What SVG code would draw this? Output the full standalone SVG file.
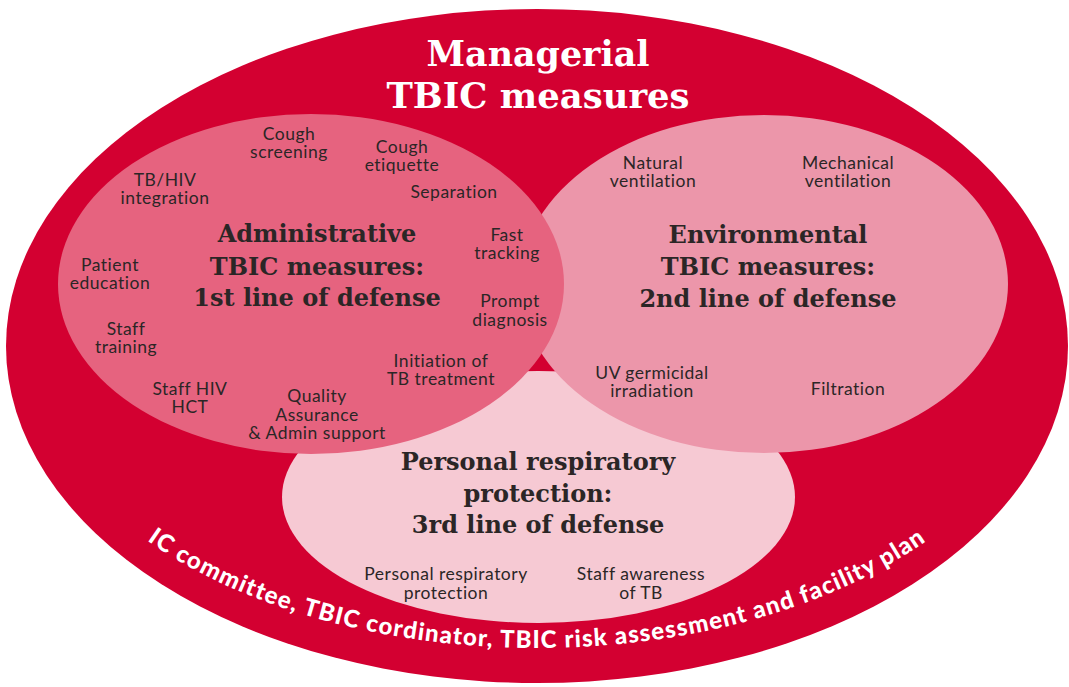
<svg xmlns="http://www.w3.org/2000/svg" xmlns:xlink="http://www.w3.org/1999/xlink" width="1069" height="687" viewBox="0 0 1069 687">
<style>
.title{font-family:"DejaVu Serif","Liberation Serif",serif;font-weight:bold;font-size:36px;fill:#ffffff;text-anchor:middle}
.head{font-family:"DejaVu Serif","Liberation Serif",serif;font-weight:bold;font-size:24px;fill:#2b2626;text-anchor:middle}
.lbl{font-family:"Lato","Open Sans",sans-serif;font-size:17.5px;letter-spacing:0.5px;fill:#2b2626;text-anchor:middle}
.curve{font-family:"Lato","Open Sans",sans-serif;font-weight:900;font-size:24px;letter-spacing:1.2px;fill:#ffffff}
</style>
<defs>
<path id="arc" d="M 27 346 A 510 302 0 0 0 1047 346"/>
</defs>
<rect width="1069" height="687" fill="#ffffff"/>
<g id="managerial">
<ellipse cx="537" cy="346" rx="531" ry="337" fill="#D30031"/>
<text class="title" x="538" y="66" textLength="223" lengthAdjust="spacingAndGlyphs">Managerial</text>
<text class="title" x="538" y="108" textLength="303" lengthAdjust="spacingAndGlyphs">TBIC measures</text>
<text class="curve"><textPath xlink:href="#arc" href="#arc" startOffset="50%" text-anchor="middle">IC committee, TBIC cordinator, TBIC risk assessment and facility plan</textPath></text>
</g>
<g id="personal">
<ellipse cx="538.5" cy="497" rx="256.5" ry="126" fill="#F6C9D3"/>
<text class="head" x="538" y="470">Personal respiratory</text>
<text class="head" x="538" y="502">protection:</text>
<text class="head" x="538" y="533">3rd line of defense</text>
<text class="lbl" x="446" y="580">Personal respiratory</text>
<text class="lbl" x="446" y="599">protection</text>
<text class="lbl" x="641" y="580">Staff awareness</text>
<text class="lbl" x="641" y="599">of TB</text>
</g>
<g id="environmental">
<ellipse cx="764" cy="284" rx="244" ry="169" fill="#EC96AA"/>
<text class="head" x="768" y="243">Environmental</text>
<text class="head" x="768" y="275">TBIC measures:</text>
<text class="head" x="768" y="307">2nd line of defense</text>
<text class="lbl" x="653" y="169">Natural</text>
<text class="lbl" x="653" y="187">ventilation</text>
<text class="lbl" x="848" y="169">Mechanical</text>
<text class="lbl" x="848" y="187">ventilation</text>
<text class="lbl" x="652" y="379">UV germicidal</text>
<text class="lbl" x="652" y="397">irradiation</text>
<text class="lbl" x="848" y="395">Filtration</text>
</g>
<g id="administrative">
<ellipse cx="311" cy="284" rx="253" ry="170" fill="#E6637F"/>
<text class="head" x="317" y="242">Administrative</text>
<text class="head" x="317" y="275">TBIC measures:</text>
<text class="head" x="317" y="306">1st line of defense</text>
<text class="lbl" x="289" y="140">Cough</text>
<text class="lbl" x="289" y="158">screening</text>
<text class="lbl" x="402" y="153">Cough</text>
<text class="lbl" x="402" y="171">etiquette</text>
<text class="lbl" x="454" y="198">Separation</text>
<text class="lbl" x="165" y="186">TB/HIV</text>
<text class="lbl" x="165" y="204">integration</text>
<text class="lbl" x="507" y="241">Fast</text>
<text class="lbl" x="507" y="259">tracking</text>
<text class="lbl" x="110" y="271">Patient</text>
<text class="lbl" x="110" y="289">education</text>
<text class="lbl" x="510" y="307">Prompt</text>
<text class="lbl" x="510" y="326">diagnosis</text>
<text class="lbl" x="126" y="335">Staff</text>
<text class="lbl" x="126" y="353">training</text>
<text class="lbl" x="441" y="367">Initiation of</text>
<text class="lbl" x="441" y="385">TB treatment</text>
<text class="lbl" x="190" y="395">Staff HIV</text>
<text class="lbl" x="190" y="413">HCT</text>
<text class="lbl" x="317" y="402">Quality</text>
<text class="lbl" x="317" y="421">Assurance</text>
<text class="lbl" x="317" y="439">&amp; Admin support</text>
</g>
</svg>
